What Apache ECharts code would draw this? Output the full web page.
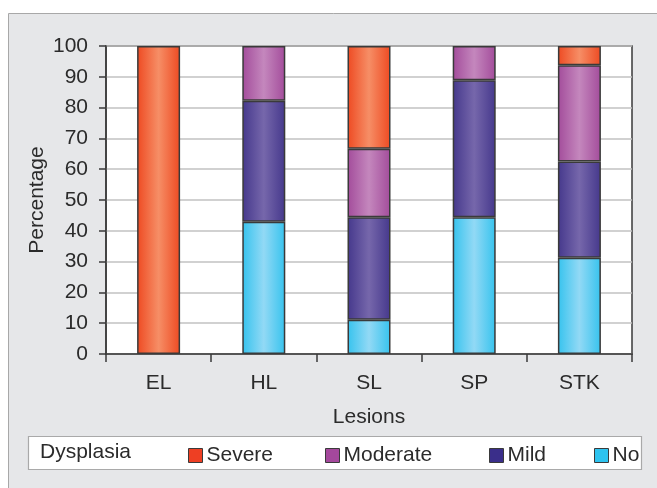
<!DOCTYPE html>
<html>
<head>
<meta charset="utf-8">
<script src="https://cdn.jsdelivr.net/npm/echarts@6/dist/echarts.min.js"></script>
<style>
  html, body { margin: 0; padding: 0; background: #ffffff; }
  #chart { width: 657px; height: 488px; }
</style>
</head>
<body>
<div id="chart"></div>
<script>
// Lesion types on the x axis
const categories = ['EL', 'HL', 'SL', 'SP', 'STK'];
// Percentage of each dysplasia grade per lesion type (null = none)
const noDysplasia = [null, 42.9, 11.1, 44.4, 31.25];
const mildDysplasia = [null, 39.3, 33.3, 44.5, 31.25];
const moderateDysplasia = [null, 17.8, 22.2, 11.1, 31.25];
const severeDysplasia = [100, null, 33.4, null, 6.25];
// Y axis range
const yMin = 0, yMax = 100, yStep = 10;

const FONT = '"Liberation Sans", Arial, sans-serif';
const TEXT = '#2b2b2b';

// Cylinder-like shading: darker edges, lighter middle
function shade(edge, mid) {
  return new echarts.graphic.LinearGradient(0, 0, 1, 0, [
    { offset: 0, color: edge },
    { offset: 0.5, color: mid },
    { offset: 1, color: edge }
  ]);
}

const grades = [
  { name: 'No', data: noDysplasia, edge: '#36c3ee', mid: '#92d9f5', flat: '#2ec3ef' },
  { name: 'Mild', data: mildDysplasia, edge: '#45388c', mid: '#7667ab', flat: '#3a2e8a' },
  { name: 'Moderate', data: moderateDysplasia, edge: '#a34c9b', mid: '#c487bd', flat: '#a4489c' },
  { name: 'Severe', data: severeDysplasia, edge: '#ee4a22', mid: '#f68e66', flat: '#ee3f23' }
];

const series = grades.map(g => ({
  name: g.name,
  type: 'bar',
  stack: 'total',
  barWidth: 43,
  data: g.data,
  itemStyle: { color: shade(g.edge, g.mid), borderColor: '#3a3a3a', borderWidth: 1.5 },
  emphasis: { disabled: true }
}));

// One legend per entry so each sits at its own x position
const legendX = { Severe: 188, Moderate: 325, Mild: 489, No: 594 };
const legends = ['Severe', 'Moderate', 'Mild', 'No'].map(n => {
  const g = grades.find(x => x.name === n);
  return {
    left: legendX[n],
    top: 445,
    padding: 0,
    itemWidth: 14,
    itemHeight: 14,
    itemGap: 5,
    icon: 'rect',
    selectedMode: false,
    data: [{ name: n, itemStyle: { color: g.flat, borderColor: '#3a3a3a', borderWidth: 1 } }],
    textStyle: { fontFamily: FONT, fontSize: 21, color: TEXT, padding: [0, 0, 0, -1] }
  };
});

const chart = echarts.init(document.getElementById('chart'), null, { renderer: 'canvas' });
chart.setOption({
  animation: false,
  backgroundColor: '#ffffff',
  graphic: [
    {
      type: 'rect', z: -10, silent: true,
      shape: { x: 8.5, y: 13.5, width: 700, height: 500 },
      style: { fill: '#e6e7e9', stroke: '#a8a8a8', lineWidth: 1 }
    },
    {
      type: 'rect', z: -5, silent: true,
      shape: { x: 28.5, y: 436.5, width: 613, height: 33 },
      style: { fill: '#ffffff', stroke: '#a9a9a9', lineWidth: 1.2 }
    },
    {
      type: 'text', silent: true, left: 40, top: 442,
      style: { text: 'Dysplasia', font: '21px ' + FONT, fill: TEXT }
    }
  ],
  legend: legends,
  grid: {
    left: 106, right: 25, top: 46, bottom: 134,
    show: true, backgroundColor: '#ffffff', borderColor: '#3a3a3a', borderWidth: 1.5
  },
  xAxis: {
    type: 'category',
    data: categories,
    name: 'Lesions',
    nameLocation: 'middle',
    nameGap: 53,
    nameMoveOverlap: false,
    nameTextStyle: { fontFamily: FONT, fontSize: 21, color: TEXT },
    axisLine: { lineStyle: { color: '#3a3a3a', width: 1.5 } },
    axisTick: { show: true, length: 8, lineStyle: { color: '#3a3a3a', width: 1.5 } },
    axisLabel: { margin: 19, fontFamily: FONT, fontSize: 21, color: TEXT }
  },
  yAxis: {
    type: 'value',
    min: yMin, max: yMax, interval: yStep,
    name: 'Percentage',
    nameLocation: 'middle',
    nameGap: 58,
    nameMoveOverlap: false,
    nameTextStyle: { fontFamily: FONT, fontSize: 21, color: TEXT },
    axisLine: { show: true, lineStyle: { color: '#3a3a3a', width: 1.5 } },
    axisTick: { show: true, length: 7, lineStyle: { color: '#3a3a3a', width: 1.5 } },
    axisLabel: { margin: 18, fontFamily: FONT, fontSize: 21, color: TEXT },
    splitLine: { lineStyle: { color: '#c2c2c2', width: 1.5 } }
  },
  series: series
});
</script>
</body>
</html>
